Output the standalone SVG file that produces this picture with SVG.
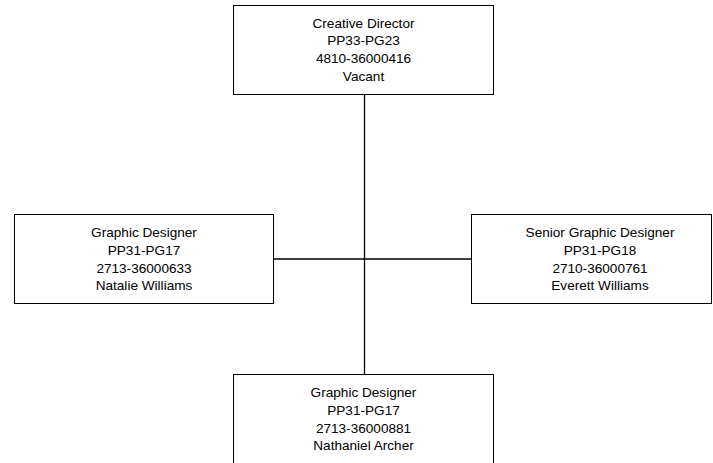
<svg xmlns="http://www.w3.org/2000/svg" width="713" height="463" viewBox="0 0 713 463">
  <style>
    .box { fill: #ffffff; stroke: #000000; stroke-width: 1; }
    .link { stroke: #000000; stroke-width: 1.3; fill: none; }
    .label { font-family: "Liberation Sans", Arial, sans-serif; font-size: 13.6px; fill: #000000; text-anchor: middle; }
  </style>
  <rect width="713" height="463" fill="#ffffff"/>

  <!-- reporting lines -->
  <g id="connectors">
    <line class="link" x1="364.5" y1="94.5" x2="364.5" y2="374.5"/>
    <line class="link" x1="273.5" y1="259" x2="471.5" y2="259"/>
  </g>

  <g id="creative-director">
    <rect class="box" x="233.5" y="5.5" width="260" height="89"/>
    <text class="label" x="363.5" y="27.5">Creative Director</text>
    <text class="label" x="363.5" y="45.3">PP33-PG23</text>
    <text class="label" x="363.5" y="63.1">4810-36000416</text>
    <text class="label" x="363.5" y="80.9">Vacant</text>
  </g>

  <g id="graphic-designer-natalie">
    <rect class="box" x="14.5" y="214.5" width="259" height="89"/>
    <text class="label" x="144" y="237">Graphic Designer</text>
    <text class="label" x="144" y="254.8">PP31-PG17</text>
    <text class="label" x="144" y="272.6">2713-36000633</text>
    <text class="label" x="144" y="290.4">Natalie Williams</text>
  </g>

  <g id="senior-graphic-designer">
    <rect class="box" x="471.5" y="214.5" width="240" height="89"/>
    <text class="label" x="600" y="237">Senior Graphic Designer</text>
    <text class="label" x="600" y="254.8">PP31-PG18</text>
    <text class="label" x="600" y="272.6">2710-36000761</text>
    <text class="label" x="600" y="290.4">Everett Williams</text>
  </g>

  <g id="graphic-designer-nathaniel">
    <rect class="box" x="233.5" y="374.5" width="260" height="92"/>
    <text class="label" x="363.5" y="397">Graphic Designer</text>
    <text class="label" x="363.5" y="414.8">PP31-PG17</text>
    <text class="label" x="363.5" y="432.6">2713-36000881</text>
    <text class="label" x="363.5" y="450.4">Nathaniel Archer</text>
  </g>
</svg>
